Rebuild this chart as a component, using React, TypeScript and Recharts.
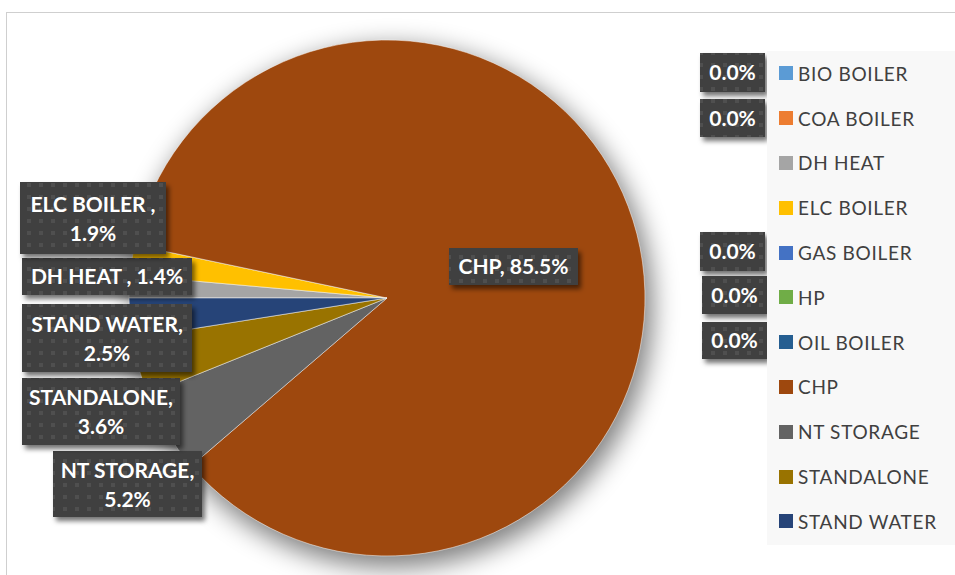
import React from "react";
import { PieChart, Pie, Cell, Legend } from "recharts";

const names = [
  "BIO BOILER",
  "COA BOILER",
  "DH HEAT ",
  "ELC BOILER ",
  "GAS BOILER",
  "HP",
  "OIL BOILER",
  "CHP",
  "NT STORAGE",
  "STANDALONE",
  "STAND WATER",
];
const values = [0.0, 0.0, 1.4, 1.9, 0.0, 0.0, 0.0, 85.5, 5.2, 3.6, 2.5];
const colors = [
  "#5b9bd5",
  "#ed7d31",
  "#a5a5a5",
  "#ffc000",
  "#4472c4",
  "#70ad47",
  "#255e91",
  "#9e480e",
  "#636363",
  "#997300",
  "#264478",
];

const data = names.map((name, i) => ({ name, value: values[i] }));

// label box layout (Excel's data-label placement)
const labelBoxes: Record<string, { x: number; y: number; w: number; h: number; wrap?: boolean }> = {
  "BIO BOILER": { x: 700, y: 53, w: 65, h: 39 },
  "COA BOILER": { x: 700, y: 99, w: 65, h: 38 },
  "DH HEAT ": { x: 22, y: 258, w: 170, h: 37 },
  "ELC BOILER ": { x: 20, y: 182, w: 146, h: 72, wrap: true },
  "GAS BOILER": { x: 700, y: 232, w: 65, h: 39 },
  HP: { x: 702, y: 276, w: 65, h: 38 },
  "OIL BOILER": { x: 702, y: 322, w: 65, h: 37 },
  CHP: { x: 449, y: 248, w: 129, h: 37 },
  "NT STORAGE": { x: 53, y: 451, w: 149, h: 66, wrap: true },
  STANDALONE: { x: 22, y: 378, w: 158, h: 67, wrap: true },
  "STAND WATER": { x: 22, y: 304, w: 170, h: 68, wrap: true },
};

const FONT = "Lato, 'Open Sans', sans-serif";

const renderLabel = (props: any) => {
  const idx = props.index;
  const name = names[idx];
  const value = values[idx];
  const box = labelBoxes[name];
  if (!box) return null;
  const pct = value.toFixed(1) + "%";
  const cxBox = box.x + box.w / 2;
  const cyBox = box.y + box.h / 2;
  const textProps = {
    fill: "#ffffff",
    fontFamily: FONT,
    fontWeight: 700,
    fontSize: 21,
    textAnchor: "middle" as const,
  };
  let content;
  if (value === 0) {
    content = (
      <text x={cxBox} y={cyBox + 7.5} {...textProps}>
        {pct}
      </text>
    );
  } else if (box.wrap) {
    content = (
      <text {...textProps}>
        <tspan x={cxBox} y={cyBox - 6.5}>{name + ","}</tspan>
        <tspan x={cxBox} y={cyBox + 22.5}>{pct}</tspan>
      </text>
    );
  } else {
    content = (
      <text x={cxBox} y={cyBox + 7.5} {...textProps}>
        {name + ", " + pct}
      </text>
    );
  }
  return (
    <g key={"lbl-" + idx}>
      <g filter="url(#boxShadow)">
        <rect x={box.x} y={box.y} width={box.w} height={box.h} fill="#404040" />
      </g>
      <rect x={box.x} y={box.y} width={box.w} height={box.h} fill="url(#dotPattern)" />
      {content}
    </g>
  );
};

const renderLegend = () => (
  <div
    style={{
      background: "#f8f8f8",
      width: 200,
      height: 494,
      boxSizing: "border-box",
    }}
  >
    {names.map((name, i) => (
      <div
        key={name}
        style={{
          height: 44.8,
          display: "flex",
          alignItems: "center",
          paddingLeft: 12,
          fontFamily: FONT,
          fontSize: 19,
          color: "#404040",
          letterSpacing: 0.7,
          whiteSpace: "pre",
        }}
      >
        <span
          style={{
            display: "inline-block",
            width: 14,
            height: 14,
            background: colors[i],
            marginRight: 5,
          }}
        />
        <span>{name.trim()}</span>
      </div>
    ))}
  </div>
);

export default function App() {
  return (
    <div
      style={{
        position: "fixed",
        left: 0,
        top: 0,
        width: 955,
        height: 575,
        overflow: "hidden",
        background: "#ffffff",
      }}
    >
      <svg width={0} height={0} style={{ position: "absolute" }}>
        <defs>
          <filter id="boxShadow" x="-20%" y="-30%" width="150%" height="170%">
            <feDropShadow dx="3" dy="4" stdDeviation="2.5" floodColor="#000" floodOpacity="0.55" />
          </filter>
          <pattern id="dotPattern" x="0" y="0" width="12" height="12" patternUnits="userSpaceOnUse">
            <rect x="3" y="3" width="4" height="4" fill="#4f4f4f" />
          </pattern>
        </defs>
      </svg>
      <div
        style={{
          position: "absolute",
          left: 6,
          top: 12,
          width: 1000,
          height: 1000,
          border: "1.5px solid #cfcfcf",
          background: "#ffffff",
        }}
      />
      {/* soft shadow under the pie */}
      <div
        style={{
          position: "absolute",
          left: 0,
          top: 0,
          filter: "blur(13px)",
          opacity: 0.5,
        }}
      >
        <PieChart width={955} height={575}>
          <Pie
            data={data}
            dataKey="value"
            cx={387}
            cy={302}
            outerRadius={260}
            isAnimationActive={false}
            fill="#000000"
          >
            {data.map((d) => (
              <Cell key={"s-" + d.name} fill="#000000" stroke="#000000" />
            ))}
          </Pie>
        </PieChart>
      </div>
      <div style={{ position: "absolute", left: 0, top: 0 }}>
        <PieChart width={955} height={575} margin={{ top: 0, right: 0, bottom: 0, left: 0 }}>
          <Pie
            data={data}
            dataKey="value"
            nameKey="name"
            cx={387}
            cy={298}
            outerRadius={258}
            startAngle={180}
            endAngle={-180}
            isAnimationActive={false}
            stroke="#ffffff"
            strokeWidth={0.5}
            label={renderLabel}
            labelLine={false}
            legendType="square"
          >
            {data.map((d, i) => (
              <Cell key={d.name} fill={colors[i]} />
            ))}
          </Pie>
          <Legend
            layout="vertical"
            align="right"
            verticalAlign="middle"
            content={renderLegend}
            wrapperStyle={{ left: 767, top: 51, right: "auto", width: 200, height: 494 }}
          />
        </PieChart>
      </div>
    </div>
  );
}
